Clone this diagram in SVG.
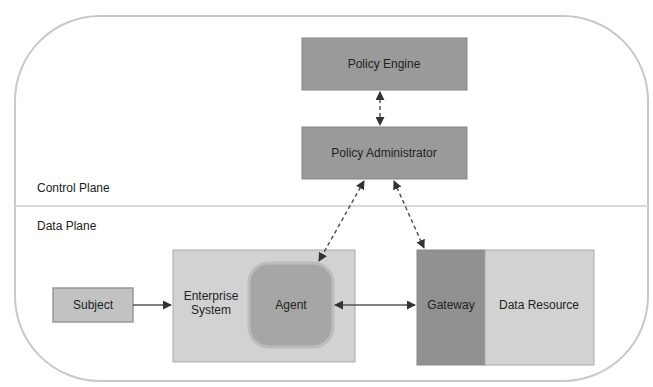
<svg xmlns="http://www.w3.org/2000/svg" width="653" height="387" viewBox="0 0 653 387">
<style>
  text { font-family: "Liberation Sans", Arial, sans-serif; font-size: 12px; fill: #222; text-anchor: middle; }
  .lbl { text-anchor: start; }
  .conn { stroke: #555; stroke-width: 1.5; fill: none; }
  .dash { stroke-dasharray: 4 3; }
</style>
<defs>
  <marker id="ah" viewBox="0 0 10 10" refX="9" refY="5" markerWidth="6" markerHeight="6" orient="auto-start-reverse">
    <path d="M0,0 L10,5 L0,10 z" fill="#333"/>
  </marker>
</defs>
<rect width="653" height="387" fill="#ffffff"/>
<g id="frame">
  <rect x="15" y="16" width="633" height="365" rx="85" ry="85" fill="none" stroke="#c8c8c8" stroke-width="2"/>
  <line x1="15" y1="206" x2="648" y2="206" stroke="#d8d8d8" stroke-width="2"/>
  <text class="lbl" x="37" y="192">Control Plane</text>
  <text class="lbl" x="37" y="230">Data Plane</text>
</g>
<g id="policy-engine">
  <rect x="302" y="38" width="165" height="52" fill="#9a9a9a" stroke="#888" stroke-width="1"/>
  <text x="384" y="68">Policy Engine</text>
</g>
<g id="policy-administrator">
  <rect x="302" y="127" width="165" height="52" fill="#9a9a9a" stroke="#888" stroke-width="1"/>
  <text x="384" y="157">Policy Administrator</text>
</g>
<g id="subject">
  <rect x="53" y="288" width="80" height="34" fill="#c2c2c2" stroke="#999" stroke-width="1.5"/>
  <text x="93" y="309">Subject</text>
</g>
<g id="enterprise-system">
  <rect x="173" y="250" width="182" height="112" fill="#d2d2d2" stroke="#aaa" stroke-width="1"/>
  <text x="211" y="300">Enterprise</text>
  <text x="211" y="314">System</text>
</g>
<g id="agent">
  <rect x="249" y="263" width="84" height="84" rx="20" ry="20" fill="#a6a6a6" stroke="#bcbcbc" stroke-width="3"/>
  <text x="291" y="309">Agent</text>
</g>
<g id="gateway">
  <rect x="417" y="250" width="68" height="115" fill="#919191" stroke="#888" stroke-width="1"/>
  <text x="451" y="309">Gateway</text>
</g>
<g id="data-resource">
  <rect x="485" y="250" width="109" height="115" fill="#d2d2d2" stroke="#aaa" stroke-width="1"/>
  <text x="539" y="309">Data Resource</text>
</g>
<g id="connectors">
  <line class="conn dash" x1="380" y1="92" x2="380" y2="125" marker-start="url(#ah)" marker-end="url(#ah)"/>
  <line class="conn dash" x1="364" y1="181" x2="319" y2="261" marker-start="url(#ah)" marker-end="url(#ah)"/>
  <line class="conn dash" x1="394" y1="181" x2="424" y2="248" marker-start="url(#ah)" marker-end="url(#ah)"/>
  <line class="conn" x1="133" y1="305" x2="171" y2="305" marker-end="url(#ah)"/>
  <line class="conn" x1="335" y1="305" x2="415" y2="305" stroke-width="2" marker-start="url(#ah)" marker-end="url(#ah)"/>
</g>
</svg>
